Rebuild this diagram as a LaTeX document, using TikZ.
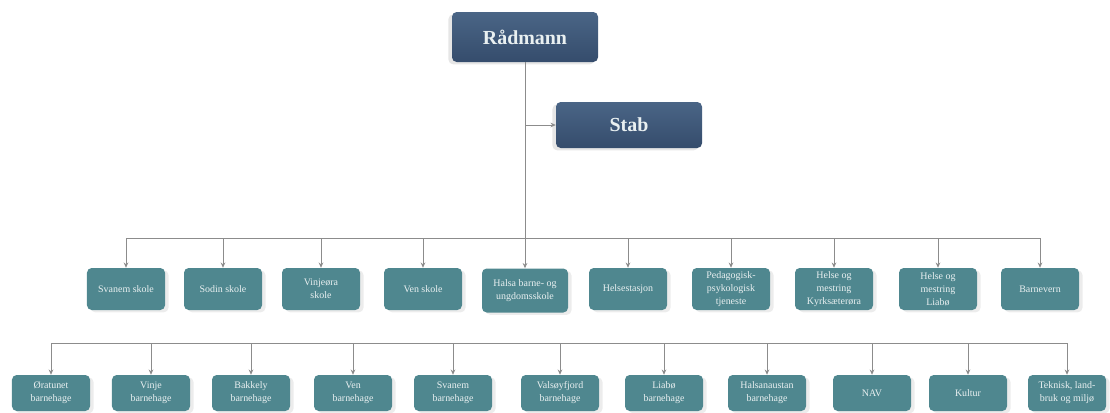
\documentclass[tikz,border=0pt]{standalone}
\usepackage{fontspec}
\setmainfont{Liberation Serif}
\usetikzlibrary{arrows.meta}
\usetikzlibrary{shadows}
\definecolor{leadtop}{HTML}{4A6586}
\definecolor{leadbot}{HTML}{354C6C}
\definecolor{unitfill}{HTML}{4F878F}
\definecolor{unittext}{HTML}{E9F0F1}
\definecolor{linkgray}{HTML}{8C8C8C}
\tikzset{
lead/.style={ % dark boxes at the top
rounded corners=4pt,
top color=leadtop, bottom color=leadbot,
text=unittext,
font=\fontsize{17}{19}\selectfont\bfseries,
minimum width=4.38cm, minimum height=1.5cm,
drop shadow={shadow xshift=-3pt, shadow yshift=-2pt, opacity=0.2}},
unit/.style={ % teal boxes
rounded corners=4pt,
fill=unitfill,
text=unittext,
font=\fontsize{8.5}{11}\selectfont,
align=center, inner sep=1pt,
minimum width=2.34cm, minimum height=1.26cm,
drop shadow={shadow xshift=3pt, shadow yshift=-2pt, opacity=0.15}},
link/.style={draw=linkgray, line width=0.8pt},
every edge/.style={ % drop lines with small heads
draw=linkgray,
line width=0.8pt,
-{Stealth[length=4.5pt, width=4pt]}}}

\begin{document}
\begin{tikzpicture}[x=0.03cm, y=-0.03cm]
\useasboundingbox (0,0) rectangle (1110,412);
\node[lead] (radmann) at (525,37) {Rådmann};
\node[lead, minimum height=1.38cm] (stab) at (629,125) {Stab};
\coordinate (bar1) at (525,238);
\coordinate (bar2) at (560,343);
% first row
\node[unit] (s1) at (126,289) {Svanem skole};
\node[unit] (s2) at (223,289) {Sodin skole};
\node[unit] (s3) at (321,289) {Vinjeøra\\skole};
\node[unit] (s4) at (423,289) {Ven skole};
\node[unit, minimum width=2.58cm, minimum height=1.32cm] (s5) at (525,290.5) {Halsa barne- og\\ungdomsskole};
\node[unit] (s6) at (628,289) {Helsestasjon};
\node[unit] (s7) at (731,289) {Pedagogisk-\\psykologisk\\tjeneste};
\node[unit] (s8) at (834,289) {Helse og\\mestring\\Kyrksæterøra};
\node[unit] (s9) at (938,289) {Helse og\\mestring\\Liabø};
\node[unit] (s10) at (1040,289) {Barnevern};
% second row
\node[unit, minimum height=1.08cm] (b1) at (51,393) {Øratunet\\barnehage};
\node[unit, minimum height=1.08cm] (b2) at (151,393) {Vinje\\barnehage};
\node[unit, minimum height=1.08cm] (b3) at (251,393) {Bakkely\\barnehage};
\node[unit, minimum height=1.08cm] (b4) at (353,393) {Ven\\barnehage};
\node[unit, minimum height=1.08cm] (b5) at (453,393) {Svanem\\barnehage};
\node[unit, minimum height=1.08cm] (b6) at (560,393) {Valsøyfjord\\barnehage};
\node[unit, minimum height=1.08cm] (b7) at (664,393) {Liabø\\barnehage};
\node[unit, minimum height=1.08cm] (b8) at (767,393) {Halsanaustan\\barnehage};
\node[unit, minimum height=1.08cm] (b9) at (872,393) {NAV};
\node[unit, minimum height=1.08cm] (b10) at (968,393) {Kultur};
\node[unit, minimum height=1.08cm] (b11) at (1067,393) {Teknisk, land-\\bruk og miljø};
% connectors
\draw[link] (radmann.south) -- (bar1);
\draw (radmann |- stab.west) edge (stab.west);
\draw[link] (s1.north |- bar1) -- (s10.north |- bar1);
\draw (s1.north |- bar1) edge (s1.north);
\draw (s2.north |- bar1) edge (s2.north);
\draw (s3.north |- bar1) edge (s3.north);
\draw (s4.north |- bar1) edge (s4.north);
\draw (s5.north |- bar1) edge (s5.north);
\draw (s6.north |- bar1) edge (s6.north);
\draw (s7.north |- bar1) edge (s7.north);
\draw (s8.north |- bar1) edge (s8.north);
\draw (s9.north |- bar1) edge (s9.north);
\draw (s10.north |- bar1) edge (s10.north);
\draw[link] (b1.north |- bar2) -- (b11.north |- bar2);
\draw (b1.north |- bar2) edge (b1.north);
\draw (b2.north |- bar2) edge (b2.north);
\draw (b3.north |- bar2) edge (b3.north);
\draw (b4.north |- bar2) edge (b4.north);
\draw (b5.north |- bar2) edge (b5.north);
\draw (b6.north |- bar2) edge (b6.north);
\draw (b7.north |- bar2) edge (b7.north);
\draw (b8.north |- bar2) edge (b8.north);
\draw (b9.north |- bar2) edge (b9.north);
\draw (b10.north |- bar2) edge (b10.north);
\draw (b11.north |- bar2) edge (b11.north);
\end{tikzpicture}
\end{document}
